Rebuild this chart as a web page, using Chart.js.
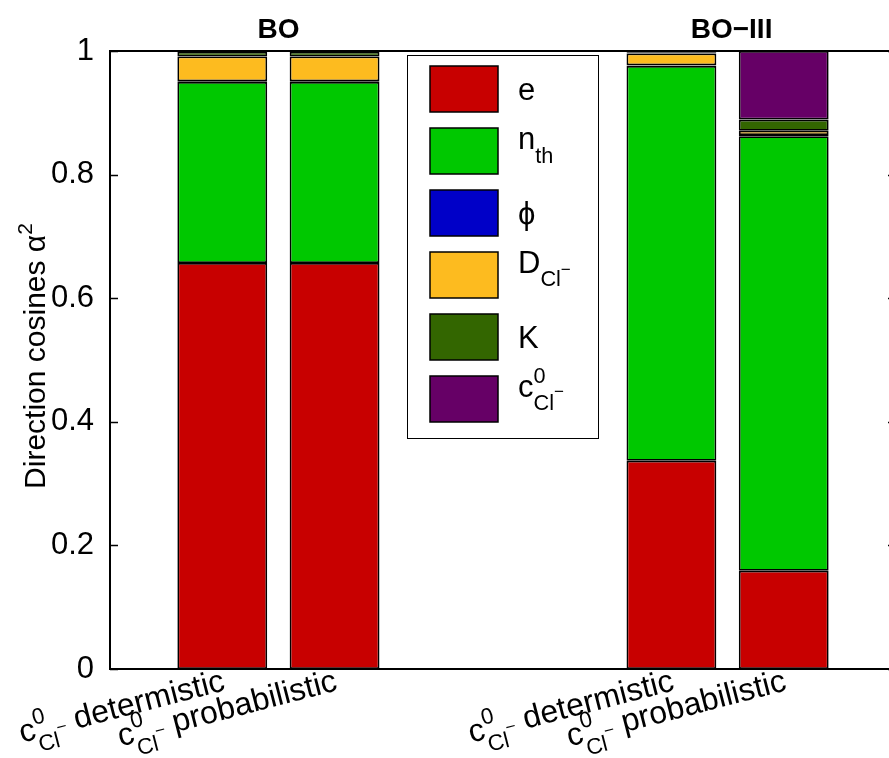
<!DOCTYPE html>
<html>
<head>
<meta charset="utf-8">
<script src="https://cdn.jsdelivr.net/npm/chart.js@4.4.1/dist/chart.umd.min.js"></script>
<style>
  html, body { margin: 0; padding: 0; background: #fff; overflow: hidden; }
  #wrap { width: 900px; height: 758px; }
</style>
</head>
<body>
<div id="wrap"><canvas id="myChart" width="900" height="758"></canvas></div>
<script>
// categories (bar positions on the x axis) and their tick texts
const positions = [1, 2, 3, 4, 5, 6];
const tickTexts = [' determistic', ' probabilistic', '', '', ' determistic', ' probabilistic'];
const groupTitles = ['BO', 'BO\u2212III'];
const groupCenters = [1.5, 5.5];
const yTicks = [0, 0.2, 0.4, 0.6, 0.8, 1];

// series values (direction cosines, stacked bottom to top)
const eVals   = [0.657, 0.657, 0, 0, 0.337, 0.159];
const nthVals = [0.293, 0.293, 0, 0, 0.639, 0.703];
const phiVals = [0.001, 0.001, 0, 0, 0.001, 0.002];
const dVals   = [0.040, 0.040, 0, 0, 0.019, 0.007];
const kVals   = [0.008, 0.008, 0, 0, 0.002, 0.018];
const c0Vals  = [0.001, 0.001, 0, 0, 0.001, 0.111];

const FONT = '"Liberation Sans", Arial, Helvetica, sans-serif';
const BASE = 31;

// rich text pieces: sz = relative size, dy = baseline shift (in base units), back = start under previous piece
const clMinus = [{ t: 'Cl', sz: 0.7, dy: 0.42 }, { t: '\u2212', sz: 0.55, dy: 0.08 }];
const c0Label = [{ t: 'c' }, { t: '0', sz: 0.7, dy: -0.45 }, { t: 'Cl', sz: 0.7, dy: 0.42, back: true }, { t: '\u2212', sz: 0.55, dy: 0.0 }];

const series = [
  { name: [{ t: 'e' }], vals: eVals, color: '#C80000' },
  { name: [{ t: 'n' }, { t: 'th', sz: 0.7, dy: 0.45 }], vals: nthVals, color: '#00C800' },
  { name: [{ t: '\u03D5' }], vals: phiVals, color: '#0000C8' },
  { name: [{ t: 'D' }].concat(clMinus), vals: dVals, color: '#FDBB1F' },
  { name: [{ t: 'K' }], vals: kVals, color: '#336600' },
  { name: c0Label, vals: c0Vals, color: '#660066' }
];

// lays out the pieces, calls draw(piece, x, size) for each, returns total width
function layoutRich(ctx, parts, start, base, draw) {
  let cx = start, prevStart = start, maxX = start;
  parts.forEach(p => {
    const size = base * (p.sz || 1);
    ctx.font = size + 'px ' + FONT;
    const sx = p.back ? prevStart : cx;
    const w = ctx.measureText(p.t).width;
    if (draw) draw(p, sx, size);
    prevStart = sx;
    cx = p.back ? Math.max(maxX, sx + w) : sx + w;
    maxX = Math.max(maxX, sx + w);
  });
  return maxX - start;
}

function drawRich(ctx, parts, x, y, base, align) {
  let start = x;
  if (align === 'right') start = x - layoutRich(ctx, parts, 0, base);
  if (align === 'center') start = x - layoutRich(ctx, parts, 0, base) / 2;
  ctx.textAlign = 'left';
  ctx.textBaseline = 'alphabetic';
  layoutRich(ctx, parts, start, base, (p, sx) => {
    ctx.fillText(p.t, sx, y + base * (p.dy || 0));
  });
}

const decorations = {
  id: 'decorations',
  afterDraw(chart) {
    const ctx = chart.ctx;
    const a = chart.chartArea;
    const xs = chart.scales.x, ys = chart.scales.y;
    ctx.save();
    ctx.fillStyle = '#000';
    ctx.strokeStyle = '#000';

    // axes box and inward ticks
    ctx.lineWidth = 2;
    ctx.strokeRect(a.left, a.top, a.right - a.left, a.bottom - a.top);
    ctx.lineWidth = 1.5;
    yTicks.forEach(v => {
      const py = Math.round(ys.getPixelForValue(v)) + 0.5;
      ctx.beginPath();
      ctx.moveTo(a.left, py); ctx.lineTo(a.left + 8, py);
      ctx.moveTo(a.right, py); ctx.lineTo(a.right - 8, py);
      ctx.stroke();
    });

    // group titles
    ctx.font = 'bold 28px ' + FONT;
    ctx.textAlign = 'center';
    ctx.textBaseline = 'alphabetic';
    groupTitles.forEach((t, i) => {
      ctx.fillText(t, xs.getPixelForValue(groupCenters[i]) + (i ? 4 : 0), 38);
    });

    // y axis title
    ctx.save();
    ctx.translate(45, 356);
    ctx.rotate(-Math.PI / 2);
    drawRich(ctx, [{ t: 'Direction cosines \u03B1' }, { t: '2', sz: 0.7, dy: -0.45 }], 0, 0, 30, 'center');
    ctx.restore();

    // rotated x tick labels
    positions.forEach((p, i) => {
      if (!tickTexts[i]) return;
      const px = xs.getPixelForValue(p);
      ctx.save();
      ctx.translate(px + 4, 690);
      ctx.rotate(-14.5 * Math.PI / 180);
      drawRich(ctx, c0Label.concat([{ t: tickTexts[i] }]), 0, 0, 32, 'right');
      ctx.restore();
    });

    // legend
    const lx = 407, ly = 55, lw = 191, lh = 383;
    ctx.fillStyle = '#fff';
    ctx.fillRect(lx, ly, lw, lh);
    ctx.lineWidth = 1;
    ctx.strokeStyle = '#000';
    ctx.strokeRect(lx + 0.5, ly + 0.5, lw, lh);
    series.forEach((s, i) => {
      const sy = 66 + i * 62;
      ctx.fillStyle = s.color;
      ctx.fillRect(430, sy, 68, 46);
      ctx.strokeStyle = '#000';
      ctx.lineWidth = 1.5;
      ctx.strokeRect(430, sy, 68, 46);
      ctx.fillStyle = '#000';
      const hasSub = s.name.some(p => p.dy > 0);
      drawRich(ctx, s.name, 518, sy + 23 + (hasSub ? -2 : 11), BASE);
    });
    ctx.restore();
  }
};

const ctx = document.getElementById('myChart').getContext('2d');
new Chart(ctx, {
  type: 'bar',
  data: {
    datasets: series.map(s => ({
      label: s.name.map(p => p.t).join(''),
      data: s.vals.map((v, i) => ({ x: positions[i], y: v })),
      backgroundColor: s.color,
      borderColor: '#000',
      borderWidth: 1.8,
      borderSkipped: false,
      stack: 's',
      barPercentage: 0.8,
      categoryPercentage: 1.0
    }))
  },
  options: {
    responsive: false,
    animation: false,
    layout: { padding: { left: 0, top: 51, right: 4, bottom: 89 } },
    plugins: { legend: { display: false }, tooltip: { enabled: false } },
    scales: {
      x: { type: 'linear', min: 0, max: 7, offset: false, display: false },
      y: {
        min: 0, max: 1, stacked: true,
        afterBuildTicks: s => { s.ticks = yTicks.map(v => ({ value: v })); },
        afterFit: s => { s.width = 110; },
        grid: { display: false },
        border: { display: false },
        ticks: {
          font: { family: FONT, size: BASE }, color: '#000', padding: 8,
          callback: v => String(+v.toFixed(1))
        }
      }
    }
  },
  plugins: [decorations]
});
</script>
</body>
</html>
